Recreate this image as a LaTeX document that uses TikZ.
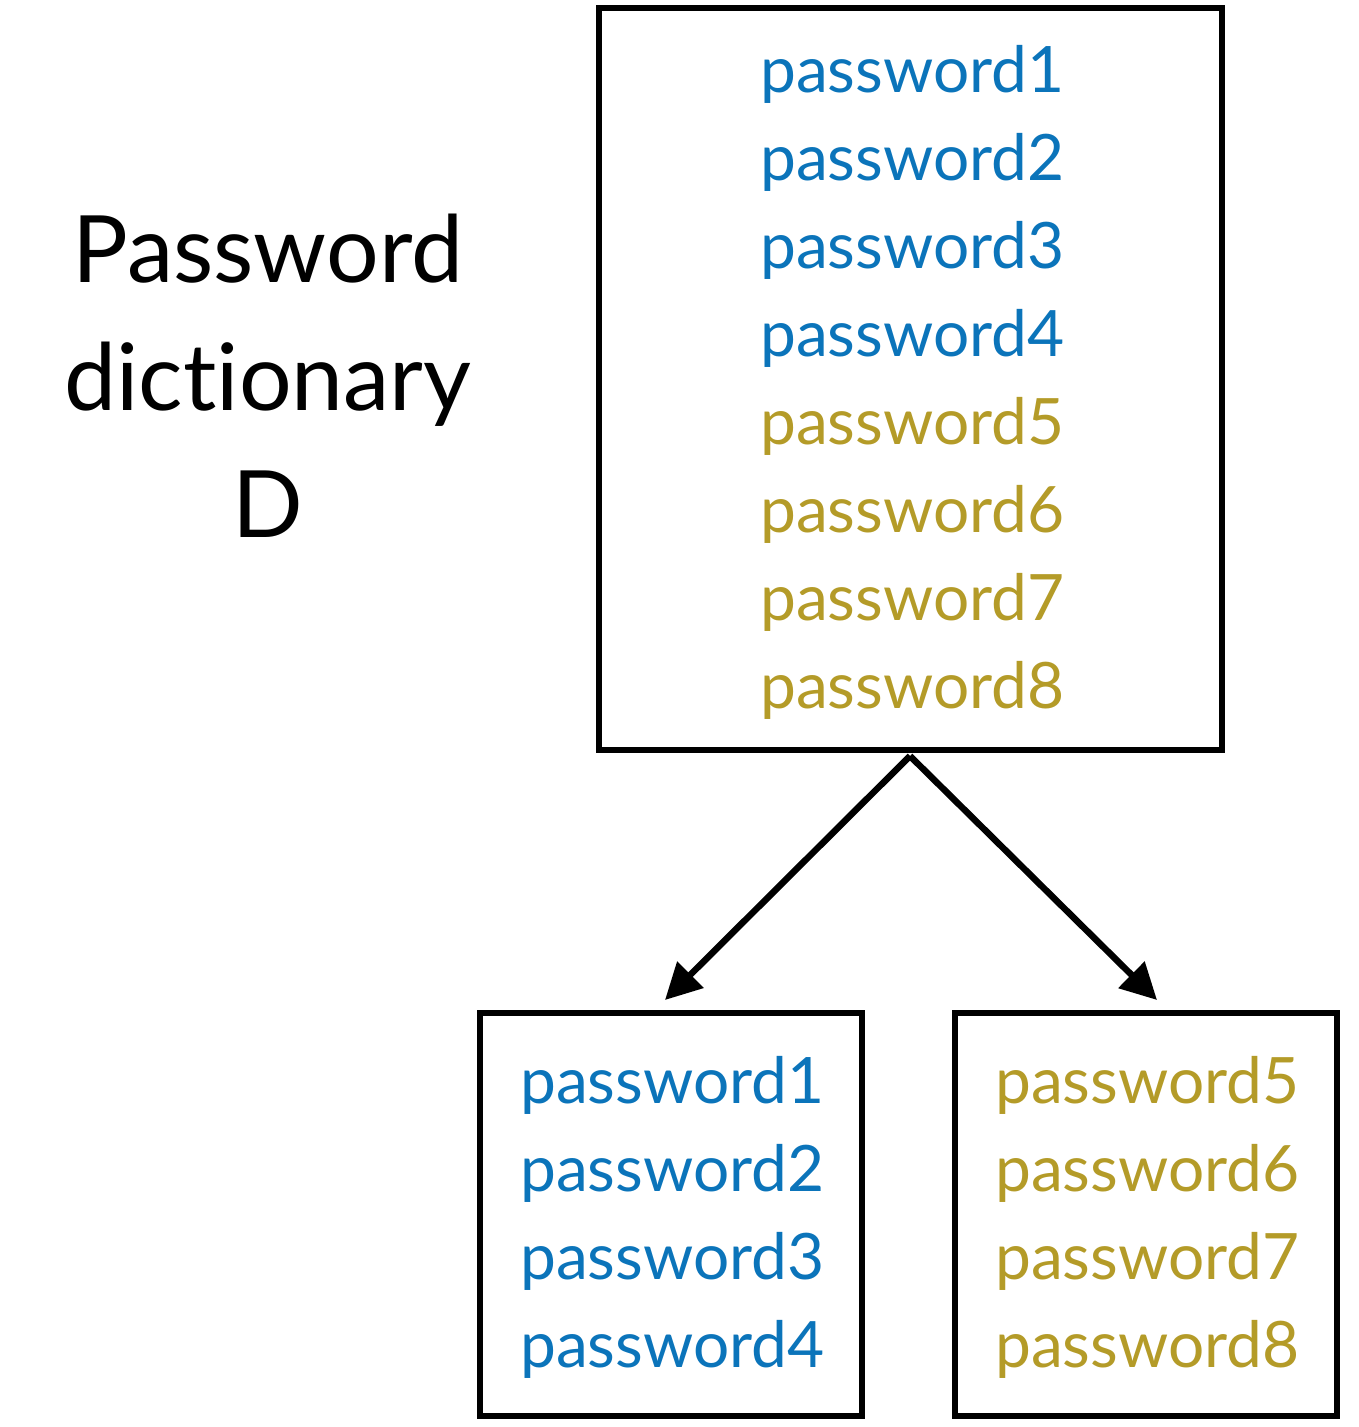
\documentclass[tikz,border=0pt]{standalone}
\usepackage{fontspec}
\setmainfont{Lato}[Ligatures={NoCommon}]
\usetikzlibrary{arrows.meta}
\definecolor{pwblue}{HTML}{0B74BA}
\definecolor{pwgold}{HTML}{B49B28}
\begin{document}
\begin{tikzpicture}[x=1pt,y=-1pt,
  box/.style={draw=black,line width=5.5pt},
  pw/.style={anchor=base west,inner sep=0pt,font=\fontsize{64}{64}\selectfont},
  bluepw/.style={pw,text=pwblue},
  goldpw/.style={pw,text=pwgold},
  label/.style={anchor=base,inner sep=0pt,font=\fontsize{93}{93}\selectfont},
  arr/.style={line width=6.5pt,-{Triangle[length=36pt,width=36pt]}}]
\useasboundingbox (0,0) rectangle (1358,1427);
\draw[box] (599,8) rectangle (1222,750);
\coordinate (topbot) at (910,756);
\node[bluepw] (t1) at (760,92) {password1};
\node[bluepw] (t2) at (760,180) {password2};
\node[bluepw] (t3) at (760,268) {password3};
\node[bluepw] (t4) at (760,356) {password4};
\node[goldpw] (t5) at (760,444) {password5};
\node[goldpw] (t6) at (760,532) {password6};
\node[goldpw] (t7) at (760,620) {password7};
\node[goldpw] (t8) at (760,708) {password8};
\draw[box] (480,1013) rectangle (862,1416);
\draw[box] (955,1013) rectangle (1337,1416);
\node[bluepw] (l1) at (520,1103) {password1};
\node[bluepw] (l2) at (520,1191) {password2};
\node[bluepw] (l3) at (520,1279) {password3};
\node[bluepw] (l4) at (520,1367) {password4};
\node[goldpw] (r1) at (995,1103) {password5};
\node[goldpw] (r2) at (995,1191) {password6};
\node[goldpw] (r3) at (995,1279) {password7};
\node[goldpw] (r4) at (995,1367) {password8};
\coordinate (ltip) at (665,1000);
\coordinate (rtip) at (1157,1000);
\draw[arr] (topbot) -- (ltip);
\draw[arr] (topbot) -- (rtip);
\node[label] (lab1) at (268,282) {Password};
\node[label] (lab2) at (268,410) {dict\kern0pt ionary};
\node[label] (lab3) at (268,537) {D};
\end{tikzpicture}
\end{document}
